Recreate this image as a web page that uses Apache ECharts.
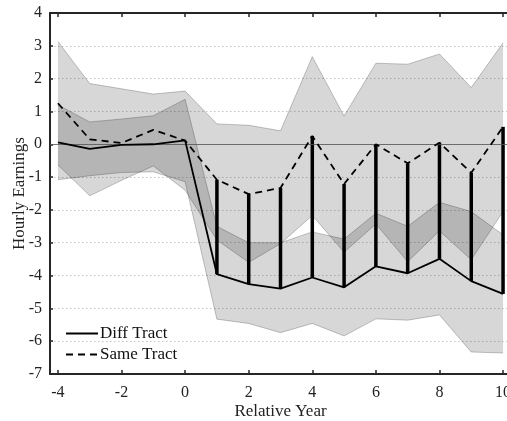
<!DOCTYPE html>
<html>
<head>
<meta charset="utf-8">
<script src="https://cdn.jsdelivr.net/npm/echarts@6/dist/echarts.min.js"></script>
<style>
  html, body { margin: 0; padding: 0; background: #fff; }
  #chart { width: 507px; height: 421px; }
</style>
</head>
<body>
<div id="chart"></div>
<script>
// Relative year (event time)
const years = [-4, -3, -2, -1, 0, 1, 2, 3, 4, 5, 6, 7, 8, 9, 10];

// Point estimates of hourly earnings
const diffTract = [0.06, -0.14, -0.02, 0.0, 0.12, -3.96, -4.26, -4.4, -4.06, -4.36, -3.72, -3.93, -3.49, -4.17, -4.56];
const sameTract = [1.25, 0.15, 0.04, 0.44, 0.11, -1.08, -1.52, -1.33, 0.25, -1.21, 0.0, -0.58, 0.05, -0.87, 0.53];

// Confidence bands
const diffLower = [-1.08, -0.96, -0.86, -0.84, -1.14, -5.33, -5.46, -5.74, -5.46, -5.84, -5.32, -5.36, -5.2, -6.33, -6.36];
const diffUpper = [1.2, 0.68, 0.77, 0.87, 1.37, -2.5, -3.0, -3.0, -2.67, -2.89, -2.1, -2.5, -1.77, -2.05, -2.76];
const sameLower = [-0.63, -1.57, -1.1, -0.66, -1.4, -2.92, -3.6, -3.03, -2.17, -3.29, -2.43, -3.58, -2.64, -3.52, -2.05];
const sameUpper = [3.13, 1.85, 1.69, 1.53, 1.62, 0.62, 0.58, 0.41, 2.67, 0.86, 2.47, 2.44, 2.75, 1.73, 3.09];

// Tick labels
const xTicks = [-4, -2, 0, 2, 4, 6, 8, 10];

const FONT = 'Liberation Serif';
const AXIS_COLOR = '#262626';

const pairs = (ys) => years.map((x, i) => [x, ys[i]]);

// One translucent polygon per band; where the two bands overlap the grey deepens
function band(name, lower, upper) {
  return {
    type: 'custom', name: name, z: 1, silent: true,
    encode: { x: 0, y: [1, 2] },
    data: years.map((x, i) => [x, lower[i], upper[i]]),
    renderItem: function (params, api) {
      if (params.dataIndexInside !== 0) return null;
      const n = params.dataInsideLength;
      const top = [], bottom = [];
      for (let i = 0; i < n; i++) {
        const x = api.value(0, i);
        bottom.push(api.coord([x, api.value(1, i)]));
        top.push(api.coord([x, api.value(2, i)]));
      }
      const fill = {
        type: 'polygon',
        shape: { points: bottom.concat(top.slice().reverse()) },
        style: { fill: 'rgba(0,0,0,0.155)', stroke: null }
      };
      const edge = (pts) => ({
        type: 'polyline', shape: { points: pts },
        style: { fill: null, stroke: 'rgba(0,0,0,0.28)', lineWidth: 0.8 }
      });
      return { type: 'group', children: [fill, edge(bottom), edge(top)] };
    }
  };
}

// Gap between the two tracts after the move
const gapData = years.map((x, i) => [x, sameTract[i], diffTract[i]]).filter(d => d[0] >= 1);

const chart = echarts.init(document.getElementById('chart'), null, { renderer: 'canvas' });

chart.setOption({
  animation: false,
  backgroundColor: '#fff',
  grid: { left: 50, right: -4, top: 13, bottom: 47, containLabel: false, outerBoundsMode: 'none' },
  legend: {
    data: ['Diff Tract', 'Same Tract'],
    orient: 'vertical',
    left: 60, top: 320,
    itemWidth: 32, itemHeight: 14, itemGap: 4,
    itemStyle: { opacity: 0 },
    textStyle: { fontFamily: FONT, fontSize: 17, color: '#111', padding: [0, 0, 0, -3] }
  },
  xAxis: [
    {
      type: 'value', min: -4.25, max: 10.25, position: 'bottom',
      name: 'Relative Year', nameLocation: 'middle', nameGap: 29, nameMoveOverlap: false,
      nameTextStyle: { fontFamily: FONT, fontSize: 17, color: '#222' },
      axisLine: { show: true, onZero: false, lineStyle: { color: AXIS_COLOR, width: 2 } },
      axisTick: { show: true, inside: true, length: 4, customValues: xTicks, lineStyle: { color: AXIS_COLOR, width: 1.5 } },
      axisLabel: { customValues: xTicks, fontFamily: FONT, fontSize: 16, color: '#222', margin: 11 },
      splitLine: { show: false }
    },
    {
      type: 'value', min: -4.25, max: 10.25, position: 'top',
      axisLine: { show: true, onZero: false, lineStyle: { color: AXIS_COLOR, width: 2 } },
      axisTick: { show: true, inside: true, length: 4, customValues: xTicks, lineStyle: { color: AXIS_COLOR, width: 1.5 } },
      axisLabel: { show: false },
      splitLine: { show: false }
    }
  ],
  yAxis: {
    type: 'value', min: -7, max: 4, interval: 1,
    name: 'Hourly Earnings', nameLocation: 'middle', nameGap: 22, nameRotate: 90, nameMoveOverlap: false,
    nameTextStyle: { fontFamily: FONT, fontSize: 17, color: '#222' },
    axisLine: { show: true, onZero: false, lineStyle: { color: AXIS_COLOR, width: 2 } },
    axisTick: { show: true, inside: true, length: 3, lineStyle: { color: AXIS_COLOR, width: 1.5 } },
    axisLabel: { fontFamily: FONT, fontSize: 16, color: '#222', margin: 8 },
    splitLine: { show: true, lineStyle: { color: '#c4c4c4', width: 1, type: [1.5, 2.5] } }
  },
  series: [
    band('same band', sameLower, sameUpper),
    band('diff band', diffLower, diffUpper),
    {
      type: 'custom', name: 'gap', z: 4, silent: true,
      encode: { x: 0, y: [1, 2] },
      data: gapData,
      renderItem: function (params, api) {
        const x = api.value(0);
        const a = api.coord([x, api.value(1)]);
        const b = api.coord([x, api.value(2)]);
        return {
          type: 'line',
          shape: { x1: a[0], y1: a[1], x2: b[0], y2: b[1] },
          style: { stroke: '#000', lineWidth: 3.5 }
        };
      }
    },
    {
      type: 'line', name: 'Diff Tract', data: pairs(diffTract), symbol: 'none', z: 5,
      lineStyle: { color: '#000', width: 1.8, type: 'solid' }, itemStyle: { color: '#000' },
      markLine: {
        silent: true, symbol: 'none', label: { show: false },
        lineStyle: { color: '#555', width: 0.8, type: 'solid' },
        data: [{ yAxis: 0 }]
      }
    },
    {
      type: 'line', name: 'Same Tract', data: pairs(sameTract), symbol: 'none', z: 5,
      lineStyle: { color: '#000', width: 1.8, type: [7, 5] }, itemStyle: { color: '#000' }
    }
  ]
});
</script>
</body>
</html>
